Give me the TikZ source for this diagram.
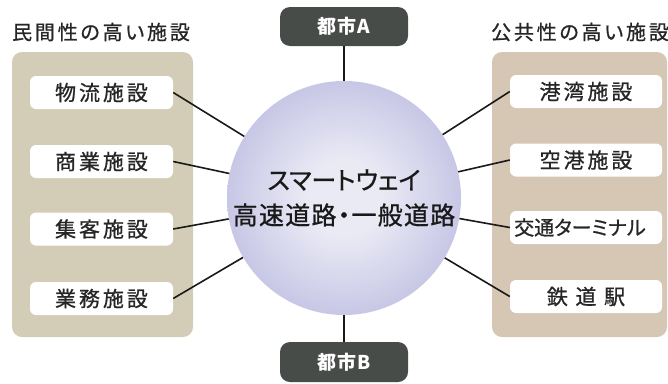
\documentclass[tikz,border=0pt]{standalone}
\usepackage{fontspec}
\setmainfont{Noto Sans CJK JP}[RawFeature=+palt]
\newfontfamily\medfont{Noto Sans CJK JP}[RawFeature=+palt, FakeBold=0.8]
\newfontfamily\medsp{Noto Sans CJK JP}[RawFeature=+palt, FakeBold=0.8, LetterSpace=14]
\definecolor{lpanel}{RGB}{211,204,182}
\definecolor{rpanel}{RGB}{214,198,180}
\definecolor{cityc}{RGB}{72,76,72}
\definecolor{ballin}{RGB}{234,234,245}
\definecolor{ballout}{RGB}{148,148,208}
\pgfdeclareradialshading{ball}{\pgfpoint{0bp}{0bp}}{color(0bp)=(ballin); color(8bp)=(ballin); color(50bp)=(ballout); color(100bp)=(ballout)}
\tikzset{
  panel/.style={rounded corners=10pt, inner sep=0pt, minimum width=181pt, minimum height=285pt},
  item/.style={fill=white, rounded corners=6pt, inner sep=0pt, minimum height=33pt, font=\medsp\fontsize{21}{24}\selectfont, text=black!85},
  ttl/.style={font=\medsp\fontsize{20}{23}\selectfont, text=black!85},
  city/.style={fill=cityc, rounded corners=10pt, inner sep=0pt, minimum width=128pt, minimum height=39pt, text=white, font=\fontsize{19}{22}\selectfont\bfseries\addfontfeature{LetterSpace=6}},
  conn/.style={draw=black!90, line width=1.6pt},
}
\begin{document}
\begin{tikzpicture}[x=1pt,y=-1pt]
\useasboundingbox (0,0) rectangle (668,383);
% panels
\node[panel, fill=lpanel] (lp) at (102.5,194.5) {};
\node[panel, fill=rpanel, minimum width=175pt] (rp) at (579.5,194.5) {};
% titles
\node[ttl] (lt) at (101,32) {民間性の高い施設};
\node[ttl] (rt) at (580,32) {公共性の高い施設};
% left items
\node[item, minimum width=143pt] (l1) at (101.5,92.5) {物流施設};
\node[item, minimum width=143pt] (l2) at (101.5,161.5) {商業施設};
\node[item, minimum width=143pt] (l3) at (101.5,229) {集客施設};
\node[item, minimum width=143pt] (l4) at (101.5,298.5) {業務施設};
% right items
\node[item, minimum width=152pt] (r1) at (586,91.5) {港湾施設};
\node[item, minimum width=152pt] (r2) at (586,160) {空港施設};
\node[item, minimum width=152pt, font=\medfont\fontsize{20}{24}\selectfont] (r3) at (586,227.5) {交通ターミナル\kern12pt};
\node[item, minimum width=152pt] (r4) at (586,296.5) {鉄 道 駅};
% hub
\node[circle, minimum size=234pt, inner sep=0pt, shading=ball, align=center,
      font=\medfont\fontsize{25}{35}\selectfont, text=black!90] (hub) at (344,198)
      {スマートウェイ\\\addfontfeature{LetterSpace=5}高速道路・一般道路};
% cities
\node[city] (ca) at (344,26.5) {都市A};
\node[city, minimum height=40pt] (cb) at (344,362) {都市B};
% connectors
\draw[conn] (ca) -- (hub);
\draw[conn] (cb) -- (hub);
\foreach \n in {l1,l2,l3,l4} \draw[conn] (\n.east) -- (hub);
\foreach \n in {r1,r2,r3,r4} \draw[conn] (\n.west) -- (hub);
\end{tikzpicture}
\end{document}
